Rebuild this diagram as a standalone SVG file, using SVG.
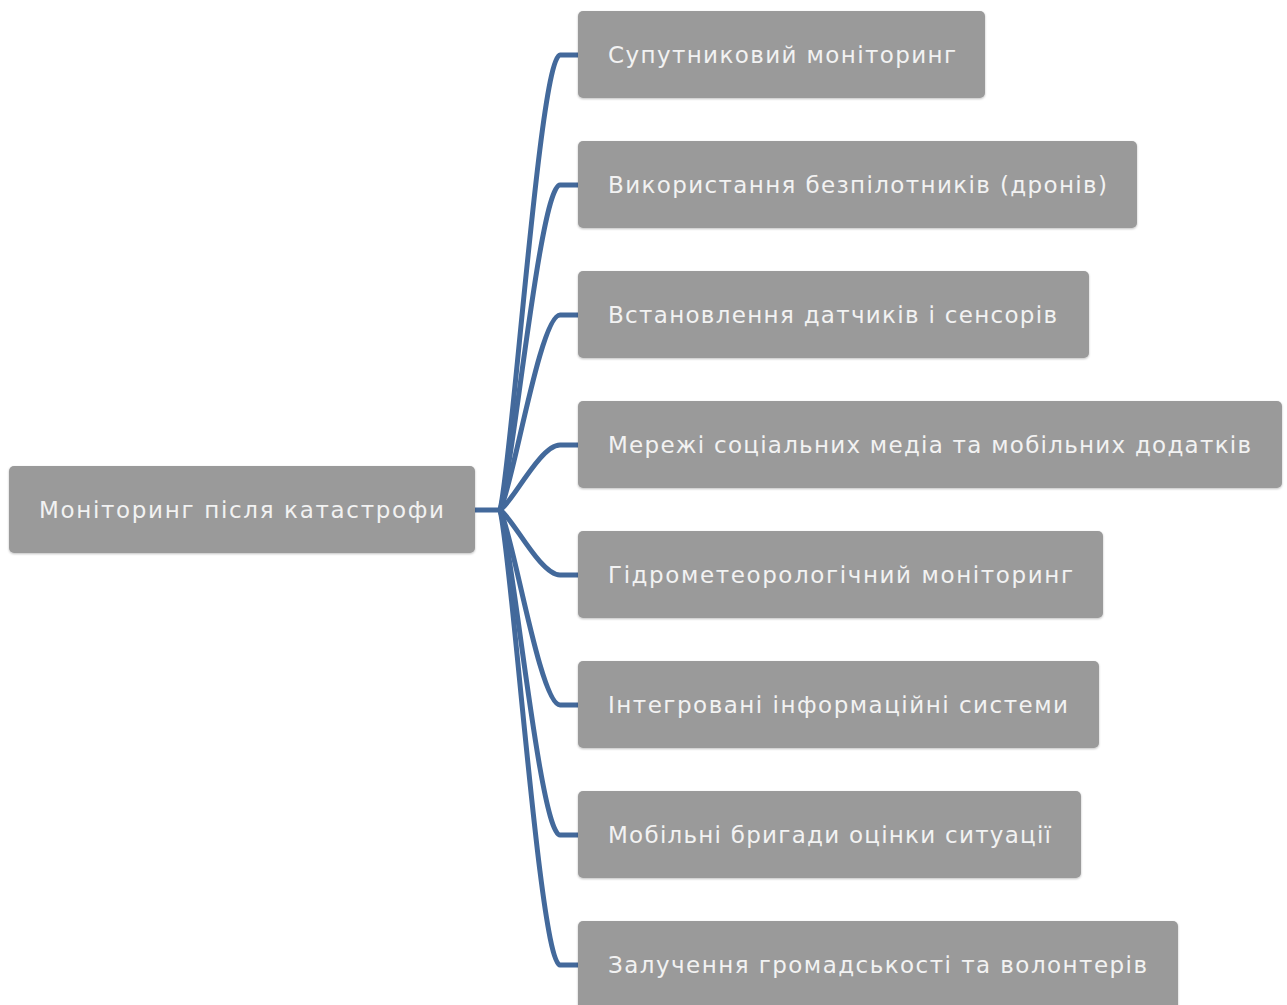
<svg xmlns="http://www.w3.org/2000/svg" width="1287" height="1005" viewBox="0 0 1287 1005">
<defs>
<filter id="sh" x="-5%" y="-20%" width="110%" height="140%">
<feDropShadow dx="0" dy="1" stdDeviation="1.2" flood-color="#000" flood-opacity="0.25"/>
</filter>
</defs>
<style>
.box{fill:#9a9a9a;filter:url(#sh)}
.t{font-family:"DejaVu Sans","Verdana",sans-serif;font-size:23px;fill:#f2f2f2;letter-spacing:1px}
.c{fill:none;stroke:#43699b;stroke-width:5;stroke-linecap:round}
</style>
<rect width="1287" height="1005" fill="#ffffff"/>
<g id="connectors">
<path class="c" d="M475,510 L500,510" stroke-width="6"/>
<path class="c" d="M500,510 C512,464.5 540,55 560,55 L578,55"/>
<path class="c" d="M500,510 C512,477.5 540,185 560,185 L578,185"/>
<path class="c" d="M500,510 C512,490.5 540,315 560,315 L578,315"/>
<path class="c" d="M500,510 C512,503.5 540,445 560,445 L578,445"/>
<path class="c" d="M500,510 C512,516.5 540,575 560,575 L578,575"/>
<path class="c" d="M500,510 C512,529.5 540,705 560,705 L578,705"/>
<path class="c" d="M500,510 C512,542.5 540,835 560,835 L578,835"/>
<path class="c" d="M500,510 C512,555.5 540,965 560,965 L578,965"/>
</g>
<g id="root">
<rect class="box" x="9" y="466" width="466" height="87" rx="5"/>
<text class="t" x="39" y="518" textLength="406" lengthAdjust="spacing">Моніторинг після катастрофи</text>
</g>
<g id="n1">
<rect class="box" x="578" y="11" width="407" height="87" rx="5"/>
<text class="t" x="608" y="63" textLength="349" lengthAdjust="spacing">Супутниковий моніторинг</text>
</g>
<g id="n2">
<rect class="box" x="578" y="141" width="559" height="87" rx="5"/>
<text class="t" x="608" y="193" textLength="500" lengthAdjust="spacing">Використання безпілотників (дронів)</text>
</g>
<g id="n3">
<rect class="box" x="578" y="271" width="511" height="87" rx="5"/>
<text class="t" x="608" y="323" textLength="450" lengthAdjust="spacing">Встановлення датчиків і сенсорів</text>
</g>
<g id="n4">
<rect class="box" x="578" y="401" width="704" height="87" rx="5"/>
<text class="t" x="608" y="453" textLength="644" lengthAdjust="spacing">Мережі соціальних медіа та мобільних додатків</text>
</g>
<g id="n5">
<rect class="box" x="578" y="531" width="525" height="87" rx="5"/>
<text class="t" x="608" y="583" textLength="466" lengthAdjust="spacing">Гідрометеорологічний моніторинг</text>
</g>
<g id="n6">
<rect class="box" x="578" y="661" width="521" height="87" rx="5"/>
<text class="t" x="608" y="713" textLength="461" lengthAdjust="spacing">Інтегровані інформаційні системи</text>
</g>
<g id="n7">
<rect class="box" x="578" y="791" width="503" height="87" rx="5"/>
<text class="t" x="608" y="843" textLength="444" lengthAdjust="spacing">Мобільні бригади оцінки ситуації</text>
</g>
<g id="n8">
<rect class="box" x="578" y="921" width="600" height="90" rx="5"/>
<text class="t" x="608" y="973" textLength="540" lengthAdjust="spacing">Залучення громадськості та волонтерів</text>
</g>
</svg>
